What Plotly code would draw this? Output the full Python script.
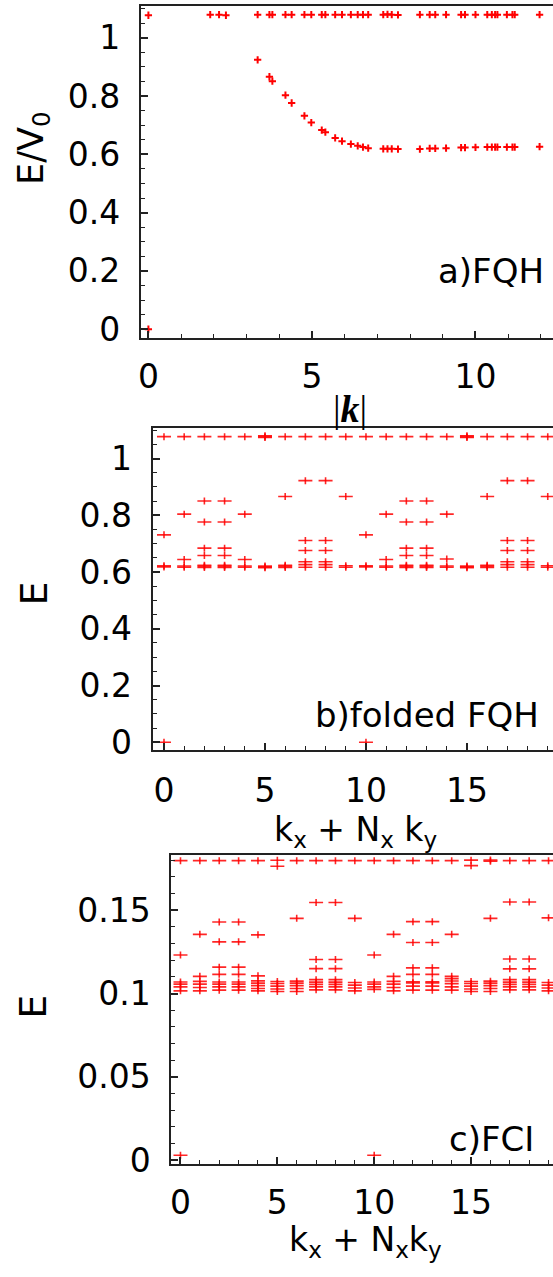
import plotly.graph_objects as go

W, H = 553, 1277

# ---------------- Panel a) FQH : energies vs |k| ----------------
a_k_upper = [0.0, 1.89, 2.16, 2.37, 3.34, 3.70, 3.79, 4.19, 4.38, 4.77, 4.98, 5.30, 5.41,
             5.71, 5.92, 6.19, 6.40, 6.56, 6.72, 7.18, 7.31, 7.44, 7.63, 8.30, 8.60, 8.77,
             9.10, 9.56, 9.68, 10.00, 10.36, 10.50, 10.60, 10.67, 10.96, 11.13, 11.20, 11.96]
a_E_upper = [1.077, 1.079, 1.079, 1.077, 1.079, 1.079, 1.079, 1.079, 1.079, 1.079, 1.079, 1.079, 1.079,
             1.079, 1.079, 1.079, 1.079, 1.079, 1.079, 1.079, 1.080, 1.079, 1.078, 1.079, 1.079, 1.079,
             1.079, 1.079, 1.079, 1.079, 1.079, 1.079, 1.079, 1.079, 1.079, 1.079, 1.079, 1.079]
a_k_lower = [3.34, 3.70, 3.79, 4.19, 4.38, 4.77, 4.98, 5.30, 5.41, 5.71, 5.92, 6.19, 6.40,
             6.56, 6.72, 7.18, 7.31, 7.44, 7.63, 8.30, 8.60, 8.77, 9.10, 9.56, 9.68, 10.00,
             10.36, 10.50, 10.60, 10.67, 10.96, 11.13, 11.20, 11.96]
a_E_lower = [0.924, 0.866, 0.851, 0.803, 0.776, 0.732, 0.709, 0.683, 0.676, 0.656, 0.645, 0.635, 0.629,
             0.625, 0.621, 0.619, 0.619, 0.619, 0.618, 0.618, 0.620, 0.620, 0.621, 0.623, 0.623, 0.624,
             0.625, 0.625, 0.625, 0.625, 0.625, 0.625, 0.625, 0.626]
a_k_ground = [0.0]
a_E_ground = [0.0]

# ---------------- Panel b) folded FQH : energies per k_x + N_x k_y ----------------
b_levels = [
    [0.0, 0.618, 0.622, 0.731, 1.077],                               # 0
    [0.617, 0.621, 0.644, 0.804, 1.077],                             # 1
    [0.616, 0.620, 0.624, 0.658, 0.684, 0.776, 0.850, 1.077],        # 2
    [0.616, 0.620, 0.624, 0.658, 0.684, 0.776, 0.850, 1.077],        # 3
    [0.617, 0.621, 0.644, 0.804, 1.077],                             # 4
    [0.615, 0.618, 0.621, 1.074, 1.077, 1.080],                      # 5
    [0.616, 0.620, 0.624, 0.866, 1.077],                             # 6
    [0.617, 0.626, 0.636, 0.676, 0.711, 0.922, 1.077],               # 7
    [0.617, 0.626, 0.636, 0.676, 0.711, 0.922, 1.077],               # 8
    [0.617, 0.622, 0.866, 1.077],                                    # 9
    [0.0, 0.618, 0.622, 0.731, 1.077],                               # 10
    [0.617, 0.621, 0.644, 0.804, 1.077],                             # 11
    [0.616, 0.620, 0.624, 0.658, 0.684, 0.776, 0.850, 1.077],        # 12
    [0.616, 0.620, 0.624, 0.658, 0.684, 0.776, 0.850, 1.077],        # 13
    [0.617, 0.621, 0.646, 0.804, 1.077],                             # 14
    [0.615, 0.618, 0.621, 1.074, 1.077, 1.080],                      # 15
    [0.616, 0.620, 0.624, 0.866, 1.077],                             # 16
    [0.617, 0.626, 0.636, 0.676, 0.711, 0.922, 1.077],               # 17
    [0.617, 0.626, 0.636, 0.676, 0.711, 0.922, 1.077],               # 18
    [0.617, 0.622, 0.866, 1.077],                                    # 19
]

# ---------------- Panel c) FCI : energies per k_x + N_x k_y ----------------
c_levels = [
    [0.003, 0.1016, 0.1040, 0.1056, 0.1069, 0.1231, 0.1797],                    # 0
    [0.1016, 0.1036, 0.1056, 0.1073, 0.1103, 0.1355, 0.1797],                   # 1
    [0.1020, 0.1040, 0.1056, 0.1069, 0.1115, 0.1158, 0.1310, 0.1429, 0.1797],   # 2
    [0.1020, 0.1040, 0.1056, 0.1069, 0.1115, 0.1158, 0.1310, 0.1429, 0.1797],   # 3
    [0.1016, 0.1030, 0.1047, 0.1062, 0.1076, 0.1106, 0.1352, 0.1797],           # 4
    [0.1012, 0.1027, 0.1044, 0.1060, 0.1072, 0.1763, 0.1799],                   # 5
    [0.1012, 0.1030, 0.1047, 0.1062, 0.1074, 0.1451, 0.1797],                   # 6
    [0.1022, 0.1040, 0.1055, 0.1068, 0.1083, 0.1149, 0.1204, 0.1546, 0.1797],   # 7
    [0.1022, 0.1040, 0.1055, 0.1068, 0.1083, 0.1149, 0.1204, 0.1546, 0.1797],   # 8
    [0.1016, 0.1033, 0.1050, 0.1066, 0.1451, 0.1797],                           # 9
    [0.003, 0.1025, 0.1040, 0.1056, 0.1069, 0.1231, 0.1797],                    # 10
    [0.1016, 0.1036, 0.1056, 0.1073, 0.1103, 0.1355, 0.1797],                   # 11
    [0.1020, 0.1044, 0.1063, 0.1070, 0.1115, 0.1154, 0.1306, 0.1431, 0.1797],   # 12
    [0.1020, 0.1044, 0.1063, 0.1070, 0.1115, 0.1154, 0.1306, 0.1431, 0.1797],   # 13
    [0.1020, 0.1040, 0.1059, 0.1075, 0.1089, 0.1103, 0.1355, 0.1797],           # 14
    [0.1012, 0.1027, 0.1044, 0.1060, 0.1072, 0.1767, 0.1800],                   # 15
    [0.1012, 0.1030, 0.1047, 0.1062, 0.1074, 0.1451, 0.1794, 0.1801],           # 16
    [0.1022, 0.1040, 0.1055, 0.1068, 0.1083, 0.1148, 0.1207, 0.1549, 0.1797],   # 17
    [0.1022, 0.1040, 0.1055, 0.1068, 0.1083, 0.1148, 0.1207, 0.1549, 0.1797],   # 18
    [0.1016, 0.1033, 0.1050, 0.1066, 0.1454, 0.1797],                           # 19
]

a_title = "a)FQH"
b_title = "b)folded FQH"
c_title = "c)FCI"

RED = "rgb(255,0,0)"
FONT = "DejaVu Sans"
AX = "#222222"


def fx(p):
    return p / W


def fy(p):
    return 1 - p / H


def flatten(levels):
    xs, ys = [], []
    for i, col in enumerate(levels):
        for e in col:
            xs.append(i)
            ys.append(e)
    return xs, ys


fig = go.Figure()

# panel a
cross_a = dict(symbol="cross-thin", size=5.2, color=RED, line=dict(color=RED, width=2))
for xs, ys in [(a_k_upper, a_E_upper), (a_k_lower, a_E_lower), (a_k_ground, a_E_ground)]:
    fig.add_trace(go.Scatter(x=xs, y=ys, mode="markers", marker=cross_a,
                             xaxis="x", yaxis="y", showlegend=False))

# panels b and c: wide "+" markers (horizontal bar + short vertical bar)
for levels, xa, ya in [(b_levels, "x2", "y2"), (c_levels, "x3", "y3")]:
    xs, ys = flatten(levels)
    fig.add_trace(go.Scatter(x=xs, y=ys, mode="markers", xaxis=xa, yaxis=ya, showlegend=False,
                             marker=dict(symbol="line-ew", size=10, color=RED,
                                         line=dict(color="rgba(255,0,0,0.85)", width=1.6))))
    fig.add_trace(go.Scatter(x=xs, y=ys, mode="markers", xaxis=xa, yaxis=ya, showlegend=False,
                             marker=dict(symbol="line-ns", size=5, color=RED,
                                         line=dict(color="rgba(255,0,0,0.85)", width=1.6))))

tickfont = dict(family=FONT, size=33, color="black")


def xax(dom_l, rng, standoff):
    return dict(domain=[fx(dom_l), 1], range=rng, dtick=5, tick0=0,
                ticks="inside", ticklen=7, tickwidth=1.5, tickcolor=AX,
                minor=dict(dtick=1, tick0=0, ticks="inside", ticklen=4, tickwidth=1.2, tickcolor=AX),
                showline=True, linewidth=2, linecolor=AX, mirror=True,
                showgrid=False, zeroline=False, tickfont=tickfont, ticklabelstandoff=standoff)


def yax(top, bot, rng, dtick, mdtick, anchor):
    return dict(domain=[fy(bot), fy(top)], range=rng, dtick=dtick, tick0=0, anchor=anchor,
                ticks="inside", ticklen=7, tickwidth=1.5, tickcolor=AX,
                minor=dict(dtick=mdtick, tick0=0, ticks="inside", ticklen=4, tickwidth=1.2, tickcolor=AX),
                showline=True, linewidth=2, linecolor=AX, mirror=False,
                showgrid=False, zeroline=False, tickfont=tickfont, ticklabelstandoff=12)


fig.update_layout(
    width=W, height=H,
    margin=dict(l=0, r=0, t=0, b=0),
    paper_bgcolor="white", plot_bgcolor="white",
    font=dict(family=FONT, color="black"),
    xaxis=dict(**xax(138.5, [-0.234, 12.37], 8), anchor="y"),
    yaxis=yax(6, 342.7, [-0.0315, 1.109], 0.2, 0.05, "x"),
    xaxis2=dict(**xax(150.5, [-0.56, 19.26], 10), anchor="y2"),
    yaxis2=yax(433.3, 760, [-0.029, 1.108], 0.2, 0.05, "x2"),
    xaxis3=dict(**xax(169.3, [-0.47, 19.23], 9), anchor="y3"),
    yaxis3=yax(866, 1178.3, [-0.002, 0.183], 0.05, 0.01, "x3"),
)

ann = []
# y-axis titles
ann.append(dict(text="E/V<sub>0</sub>", x=fx(30), y=fy(150), textangle=-90,
                font=dict(family=FONT, size=35)))
ann.append(dict(text="E", x=fx(30.8), y=fy(601.5), textangle=-90, font=dict(family=FONT, size=38)))
ann.append(dict(text="E", x=fx(30.8), y=fy(1020), textangle=-90, font=dict(family=FONT, size=38)))
# x-axis titles
ann.append(dict(text="|<b><i>k</i></b>|", x=fx(348.5), y=fy(414),
                font=dict(family="Liberation Serif", size=38)))
ann.append(dict(text="k<sub>x</sub> + N<sub>x</sub> k<sub>y</sub>", x=fx(354.7), y=fy(842),
                font=dict(family=FONT, size=33)))
ann.append(dict(text="k<sub>x</sub> + N<sub>x</sub>k<sub>y</sub>", x=fx(364), y=fy(1257),
                font=dict(family=FONT, size=33)))
# panel labels
ann.append(dict(text=a_title, x=fx(546), y=fy(274.7), xanchor="right", font=dict(family=FONT, size=34)))
ann.append(dict(text=b_title, x=fx(541), y=fy(724.3), xanchor="right", font=dict(family=FONT, size=34)))
ann.append(dict(text=c_title, x=fx(536), y=fy(1153.3), xanchor="right", font=dict(family=FONT, size=34)))

for a in ann:
    a.setdefault("xanchor", "center")
    a.update(xref="paper", yref="paper", yanchor="middle", showarrow=False)
fig.update_layout(annotations=ann)

fig.write_html("out.html", config={"displayModeBar": False},
               post_script="document.body.style.margin='0px';document.body.style.overflow='hidden';")
